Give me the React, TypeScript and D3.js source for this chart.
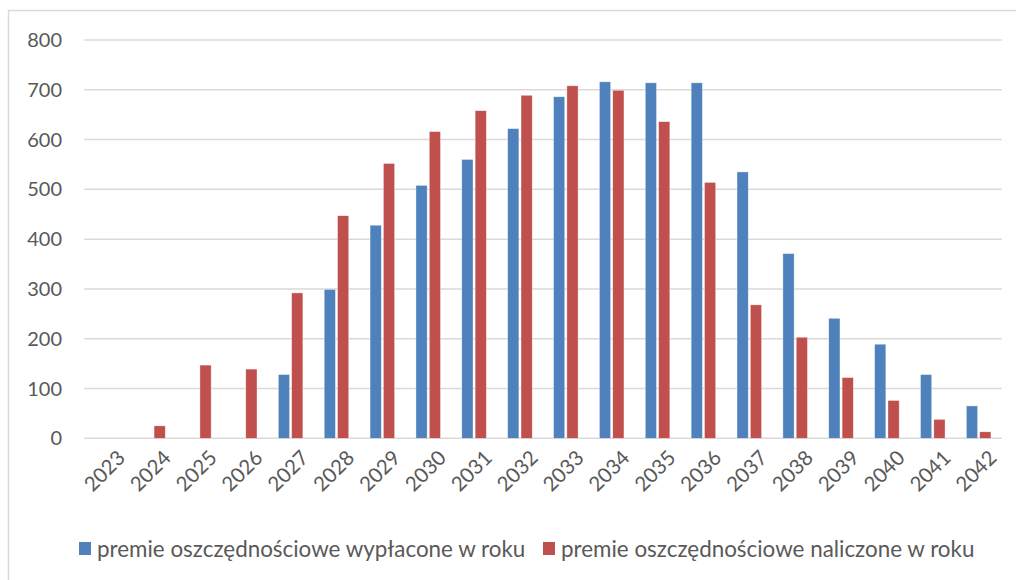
import React, { useEffect, useRef } from "react";
import * as d3 from "d3";

const years = ["2023", "2024", "2025", "2026", "2027", "2028", "2029", "2030", "2031", "2032",
  "2033", "2034", "2035", "2036", "2037", "2038", "2039", "2040", "2041", "2042"];
const wyplacone = [0, 0, 0, 0, 128, 299, 428, 508, 560, 622, 686, 716, 714, 714, 535, 371, 241, 189, 128, 65];
const naliczone = [0, 25, 147, 139, 292, 447, 552, 616, 658, 689, 708, 699, 636, 514, 268, 203, 122, 76, 38, 13];
const seriesNames = ["premie oszczędnościowe wypłacone w roku", "premie oszczędnościowe naliczone w roku"];
const colors = ["#4f81bd", "#c0504d"];
const yTicks = [0, 100, 200, 300, 400, 500, 600, 700, 800];

const font = "Lato, 'Liberation Sans', sans-serif";

export default function App() {
  const ref = useRef<SVGSVGElement>(null);

  useEffect(() => {
    const svg = d3.select(ref.current);
    svg.selectAll("*").remove();

    const W = 1016, H = 580;
    const left = 84.3, right = 1001.7, top = 40, bottom = 438.3;

    // chart frame
    svg.append("rect")
      .attr("x", 8.5).attr("y", 10.5)
      .attr("width", W + 10).attr("height", H + 10)
      .attr("fill", "white").attr("stroke", "#d9d9d9").attr("stroke-width", 1.5);

    const x0 = d3.scaleBand().domain(years).range([left, right]).padding(0);
    const bw = x0.bandwidth();
    const x1 = d3.scaleBand().domain(["0", "1"]).range([bw * 0.23, bw * 0.765]).paddingInner(0.16);
    const y = d3.scaleLinear().domain([0, 800]).range([bottom, top]);

    // gridlines
    svg.append("g").selectAll("line").data(yTicks).enter().append("line")
      .attr("x1", left).attr("x2", right)
      .attr("y1", d => y(d)).attr("y2", d => y(d))
      .attr("stroke", "#d9d9d9").attr("stroke-width", 1.5);

    // y labels
    svg.append("g").selectAll("text").data(yTicks).enter().append("text")
      .attr("x", 62).attr("y", d => y(d))
      .attr("dy", "0.35em")
      .attr("text-anchor", "end")
      .attr("fill", "#595959")
      .style("font-family", font).style("font-size", "20px")
      .text(d => d);

    // bars
    const data = [wyplacone, naliczone];
    data.forEach((vals, s) => {
      svg.append("g").selectAll("rect").data(vals).enter().append("rect")
        .attr("x", (d, i) => (x0(years[i]) as number) + (x1(String(s)) as number))
        .attr("width", x1.bandwidth())
        .attr("y", d => y(d))
        .attr("height", d => bottom - y(d))
        .attr("fill", colors[s])
        .attr("stroke", "white").attr("stroke-width", 0.6).attr("stroke-opacity", 0.6);
    });

    // x labels
    svg.append("g").selectAll("text").data(years).enter().append("text")
      .attr("transform", d => `translate(${(x0(d) as number) + bw / 2 + 9},${449}) rotate(-45)`)
      .attr("text-anchor", "end")
      .attr("dy", "0.7em")
      .attr("fill", "#595959")
      .style("font-family", font).style("font-size", "20.5px")
      .text(d => d);

    // legend
    const lg = svg.append("g");
    const lx = [79, 543];
    seriesNames.forEach((n, i) => {
      lg.append("rect").attr("x", lx[i]).attr("y", 542).attr("width", 12).attr("height", 13).attr("fill", colors[i]);
      lg.append("text").attr("x", lx[i] + 18).attr("y", 549).attr("dy", "0.35em")
        .attr("fill", "#595959")
        .style("font-family", font).style("font-size", "22.4px")
        .text(n);
    });
  }, []);

  return (
    <div style={{ position: "fixed", left: 0, top: 0 }}>
      <svg ref={ref} width={1016} height={580} style={{ display: "block" }} />
    </div>
  );
}
